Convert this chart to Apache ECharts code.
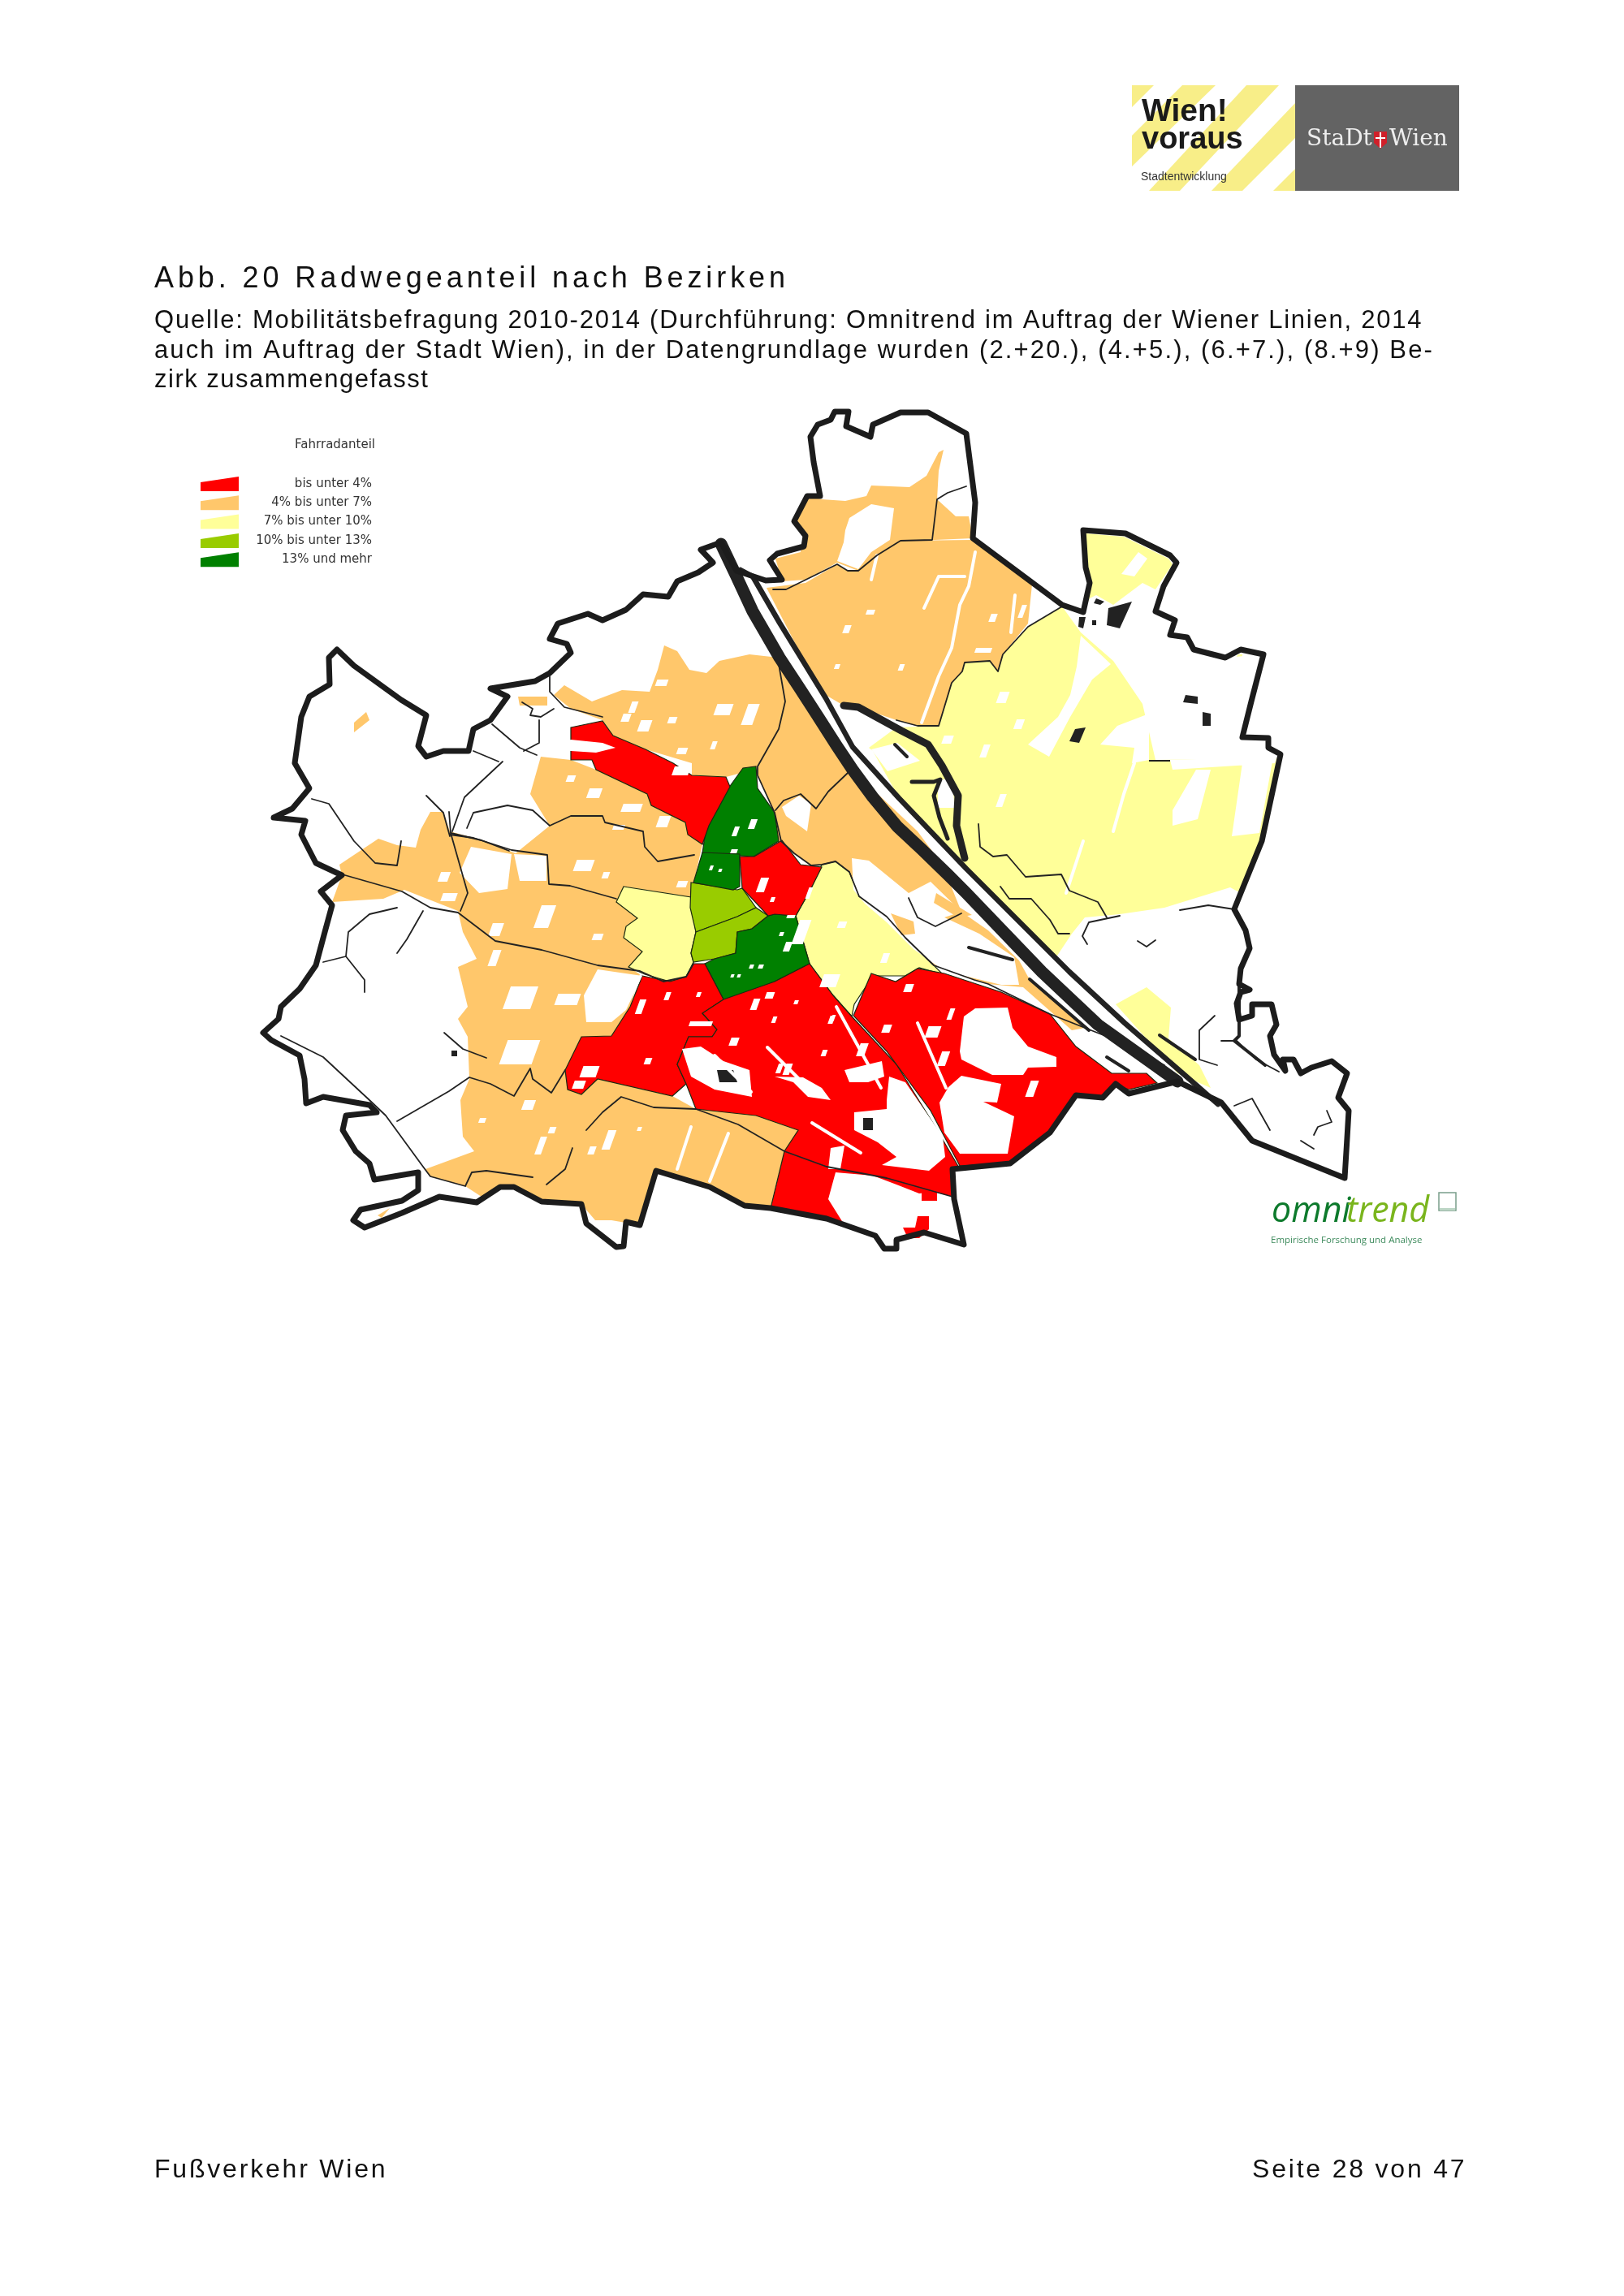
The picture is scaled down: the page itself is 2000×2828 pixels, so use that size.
<!DOCTYPE html>
<html><head><meta charset="utf-8">
<style>html,body{margin:0;padding:0;background:#fff}#c{width:2000px;height:2828px}</style>
<script src="https://cdn.jsdelivr.net/npm/echarts@6/dist/echarts.min.js"></script>
</head><body><div id="c"></div>
<script>
// ---------- text ----------
const HEADING = 'Abb. 20 Radwegeanteil nach Bezirken';
const SOURCE_LINES = [
 'Quelle: Mobilitätsbefragung 2010-2014 (Durchführung: Omnitrend im Auftrag der Wiener Linien, 2014',
 'auch im Auftrag der Stadt Wien), in der Datengrundlage wurden (2.+20.), (4.+5.), (6.+7.), (8.+9) Be-',
 'zirk zusammengefasst'];
const FOOT_LEFT = 'Fußverkehr Wien';
const FOOT_RIGHT = 'Seite 28 von 47';
const LEGEND_TITLE = 'Fahrradanteil';
const CLASS_NAMES = ['bis unter 4%','4% bis unter 7%','7% bis unter 10%','10% bis unter 13%','13% und mehr'];
const CLASS_COLORS = ['#ff0000','#ffc76b','#ffff99','#99cc00','#008000'];

// ---------- map geometry (map units) ----------
const OUTER = [[860,705],[878,693],[863,677],[888,668],[907,703],[943,715],[963,714],[948,690],[957,682],[990,673],[992,660],[978,642],[994,611],[1010,611],[1002,569],[998,538],[1007,523],[1023,517],[1028,507],[1045,507],[1042,525],[1072,538],[1075,523],[1109,508],[1143,508],[1190,534],[1201,619],[1198,663],[1308,745],[1334,754],[1342,718],[1337,699],[1334,653],[1386,657],[1441,684],[1449,693],[1433,722],[1423,753],[1447,764],[1441,782],[1462,785],[1470,800],[1509,810],[1528,800],[1556,806],[1541,864],[1530,908],[1562,909],[1562,921],[1577,929],[1554,1036],[1528,1100],[1520,1120],[1534,1146],[1539,1168],[1528,1193],[1526,1212],[1539,1219],[1528,1222],[1523,1236],[1526,1256],[1542,1251],[1542,1237],[1566,1237],[1572,1262],[1564,1276],[1569,1299],[1583,1319],[1580,1305],[1593,1305],[1602,1322],[1615,1315],[1640,1307],[1659,1322],[1648,1352],[1661,1368],[1659,1402],[1656,1451],[1542,1405],[1504,1358],[1450,1332],[1390,1347],[1374,1335],[1358,1352],[1325,1349],[1293,1395],[1244,1433],[1173,1440],[1175,1477],[1187,1533],[1138,1518],[1104,1527],[1104,1538],[1089,1538],[1078,1522],[1018,1501],[949,1488],[917,1485],[874,1462],[808,1442],[788,1509],[771,1505],[768,1535],[759,1536],[722,1507],[716,1483],[667,1480],[633,1462],[616,1462],[587,1481],[541,1474],[495,1494],[449,1512],[435,1503],[444,1490],[495,1479],[515,1466],[515,1444],[461,1453],[455,1433],[438,1418],[422,1392],[426,1374],[464,1370],[455,1361],[398,1351],[377,1359],[375,1329],[369,1300],[334,1281],[324,1272],[343,1255],[346,1240],[369,1218],[389,1189],[400,1148],[409,1115],[395,1098],[421,1078],[389,1063],[371,1028],[376,1011],[337,1007],[360,996],[381,971],[363,940],[371,883],[381,858],[406,843],[405,810],[415,800],[436,820],[494,862],[525,881],[515,919],[525,932],[546,925],[577,925],[583,898],[604,887],[625,858],[604,848],[659,839],[677,829],[703,804],[698,793],[677,787],[687,768],[724,756],[742,764],[771,751],[792,732],[823,735],[834,716],[860,705]];
const DANUBE_MAIN = [[888,670],[907,710],[927,753],[960,810],[985,848],[1007,882],[1030,918],[1050,948],[1075,982],[1105,1018],[1135,1046],[1167,1077],[1190,1100],[1283,1197],[1352,1262],[1450,1332]];
const DANUBE_SIDE = [[912,702],[927,710],[960,767],[1017,860],[1050,920],[1107,983],[1190,1070],[1317,1197],[1385,1260],[1460,1325],[1500,1360]];
const OLD_DANUBE = [[1039,869],[1057,871],[1110,900],[1143,917],[1160,943],[1180,980],[1178,1017],[1188,1057]];
const OLD_DANUBE_INNER = [[1123,963],[1150,963],[1158,960],[1150,980],[1157,1007],[1167,1033]];
const SIDE_ARMS = [[[1268,1206],[1341,1269]],[[1428,1275],[1472,1305]],[[1363,1302],[1390,1319]],[[1193,1167],[1247,1182]],[[1526,1212],[1526,1276],[1520,1282],[1558,1312]],[[1102,917],[1117,932]]];
const DISTRICT_LINES = [
 [[959,818],[967,864],[959,898],[933,944],[933,955],[954,1001],[962,1036],[978,1051],[999,1066],[1012,1065],[1029,1061],[1046,1074],[1058,1104],[1092,1129],[1115,1155],[1150,1189],[1200,1207],[1217,1212],[1293,1249],[1369,1279],[1434,1312]],
 [[677,829],[677,852],[695,871],[742,883]],[[643,865],[656,873],[653,881],[666,883],[682,873]],[[664,887],[664,915],[645,925]],
 [[606,892],[640,921],[661,930]],[[583,925],[614,938]],[[619,938],[588,967],[572,982],[557,1024]],[[525,980],[546,1001],[554,1030]],
 [[384,984],[405,990],[436,1036],[462,1063],[489,1066],[494,1036]],
 [[575,1020],[583,1001],[625,992],[656,998],[677,1017],[703,1005],[742,1005],[745,1013],[792,1024],[794,1043],[810,1061],[855,1053]],
 [[554,1028],[583,1032],[630,1047],[674,1053],[676,1089],[702,1091],[759,1107]],
 [[418,1076],[495,1098],[530,1118],[564,1124],[610,1159],[667,1170],[736,1189],[788,1196],[817,1209],[845,1203],[854,1187]],
 [[553,1000],[555,1026],[593,1035],[627,1048]],[[555,1026],[576,1100],[567,1122]],
 [[489,1174],[501,1157],[521,1122]],[[489,1118],[455,1126],[429,1148],[426,1178],[449,1207],[449,1222]],[[426,1178],[398,1185]],
 [[346,1276],[398,1302],[455,1355],[475,1374],[521,1437],[530,1449],[573,1461],[581,1444],[599,1442],[656,1450]],
 [[489,1381],[553,1344],[578,1327],[604,1335],[633,1350],[653,1316],[656,1329],[679,1346],[696,1318]],
 [[547,1272],[570,1292],[599,1303]],
 [[722,1392],[742,1370],[765,1351],[805,1364],[857,1366],[909,1385],[966,1418],[1018,1437],[1092,1451],[1173,1474]],
 [[673,1459],[696,1440],[705,1414]],
 [[952,726],[968,726],[1031,695],[1044,703],[1057,703],[1080,684],[1109,666],[1148,665],[1154,615],[1167,607],[1190,599]],
 [[1104,887],[1130,894],[1156,894],[1172,841],[1185,827],[1188,816],[1219,814],[1229,827],[1235,806],[1266,772],[1308,747]],
 [[1044,952],[1020,975],[1005,996],[986,978],[965,986],[955,998]],
 [[1205,1015],[1207,1043],[1223,1055],[1240,1053],[1263,1080],[1307,1077],[1317,1097],[1352,1111],[1363,1130]],
 [[1232,1092],[1243,1107],[1270,1107],[1293,1133],[1303,1150],[1317,1150]],[[1379,1128],[1341,1136],[1333,1153],[1339,1163]],
 [[1453,1121],[1488,1115],[1520,1120]],[[1401,1159],[1412,1166],[1423,1158]],[[1119,1106],[1130,1130],[1152,1141],[1184,1125]],
 [[1496,1251],[1477,1269],[1477,1305],[1499,1312]],[[1504,1282],[1523,1282],[1547,1305],[1575,1320]],[[1520,1362],[1542,1353],[1564,1392]],
 [[1618,1398],[1623,1388],[1640,1382],[1634,1368]],[[1602,1405],[1618,1415]]
];
const WHITE_STREAKS = [
 [[1201,680],[1193,722],[1182,745],[1172,798],[1156,833],[1135,890]],[[1138,749],[1156,710],[1188,710]],[[1080,684],[1073,714]],[[1250,733],[1245,779]],
 [[1371,1024],[1384,978],[1397,940]],[[1313,1100],[1334,1036]],[[897,1396],[874,1455]],[[851,1388],[834,1440]],
 [[880,1300],[925,1345]],[[1030,1240],[1085,1340]],[[1130,1260],[1165,1340]],[[1190,1330],[1160,1360]],[[945,1290],[1000,1345]],[[1000,1383],[1060,1420]]
];

// colour-class districts, drawn in this order
const D_ORANGE_NW = [[959,810],[923,806],[886,814],[870,829],[849,825],[834,802],[818,795],[810,825],[800,852],[766,850],[729,864],[695,844],[682,856],[703,873],[742,887],[755,906],[795,923],[852,940],[852,955],[894,957],[928,948],[933,944],[959,898],[967,864]];
const D_ORANGE_SMALL = [[[638,858],[674,858],[674,869],[640,869]],[[451,877],[455,887],[436,902],[436,890]],[[465,1497],[480,1488],[470,1500]]];
const D_ORANGE_W = [[418,1065],[466,1033],[489,1041],[512,1044],[518,1022],[530,1000],[546,1000],[554,1024],[598,1036],[635,1051],[677,1017],[653,978],[666,932],[703,936],[734,948],[797,978],[802,992],[844,1013],[847,1028],[865,1040],[854,1089],[851,1105],[768,1092],[759,1111],[785,1131],[771,1141],[768,1155],[791,1172],[774,1191],[788,1200],[776,1240],[753,1276],[716,1277],[696,1318],[699,1342],[716,1348],[736,1329],[828,1350],[857,1366],[931,1374],[983,1392],[966,1418],[949,1485],[917,1485],[874,1462],[808,1442],[788,1509],[753,1503],[733,1503],[716,1483],[667,1480],[633,1462],[616,1462],[593,1474],[573,1461],[530,1449],[524,1440],[584,1418],[570,1400],[567,1355],[578,1329],[576,1277],[564,1255],[576,1240],[564,1191],[587,1181],[570,1148],[564,1122],[498,1096],[472,1107],[409,1111],[421,1078]];
const D_ORANGE_NE_LOBE = [[955,688],[986,680],[989,661],[978,642],[994,611],[1012,615],[1041,617],[1067,611],[1073,598],[1120,600],[1141,586],[1156,557],[1162,554],[1156,580],[1154,615],[1177,636],[1193,636],[1198,663],[1151,665],[1109,666],[1080,684],[1057,703],[1031,693],[992,714],[963,716]];
const D_ORANGE_NE = [[944,724],[992,718],[1031,695],[1044,703],[1057,703],[1080,684],[1109,666],[1198,665],[1271,720],[1266,768],[1235,806],[1229,827],[1219,814],[1188,816],[1185,827],[1172,841],[1156,894],[1130,894],[1104,887],[1057,871],[1039,869],[1010,852]];
const D_ORANGE_MID = [[960,818],[989,844],[1049,948],[1130,1024],[1161,1066],[1184,1123],[1217,1146],[1255,1183],[1266,1203],[1336,1266],[1320,1269],[1260,1216],[1217,1212],[1200,1207],[1150,1189],[1115,1155],[1092,1129],[1058,1104],[1046,1074],[1029,1061],[1012,1065],[999,1066],[978,1051],[957,1036],[954,1001],[933,955],[933,944],[959,898],[967,864]];
const D_YELLOW_W = [[768,1092],[851,1105],[857,1148],[851,1174],[854,1185],[845,1203],[825,1209],[794,1200],[774,1191],[791,1172],[768,1155],[771,1141],[785,1131],[759,1111]];
const D_YELLOW_C = [[1012,1065],[1029,1061],[1046,1074],[1058,1104],[1092,1129],[1115,1155],[1150,1189],[1161,1200],[1132,1192],[1115,1202],[1075,1202],[1052,1237],[1049,1252],[1026,1226],[997,1187],[980,1128],[998,1096]];
const D_YELLOW_E = [[1104,896],[1156,894],[1172,841],[1185,827],[1188,816],[1219,814],[1229,827],[1235,806],[1266,772],[1308,747],[1331,779],[1371,814],[1407,867],[1423,936],[1572,934],[1554,1036],[1528,1100],[1515,1093],[1434,1118],[1379,1126],[1336,1130],[1320,1150],[1300,1180],[1190,1072],[1110,988],[1075,925],[1070,921]];
const D_YELLOW_N = [[1337,657],[1384,661],[1439,688],[1444,695],[1423,726],[1407,718],[1371,745],[1350,733],[1342,737],[1334,753],[1342,718],[1334,672]];
const D_YELLOW_SMALL = [[[1507,829],[1525,806],[1530,806],[1528,829]],[[1509,856],[1525,856],[1507,909],[1496,913]],[[1374,1237],[1412,1216],[1442,1241],[1439,1279],[1477,1312],[1491,1340],[1450,1322]]];
const D_LIME_1 = [[851,1087],[908,1096],[914,1094],[931,1118],[908,1129],[857,1148],[850,1118]];
const D_LIME_2 = [[857,1148],[908,1129],[931,1118],[946,1128],[926,1144],[908,1148],[906,1174],[880,1181],[854,1185],[851,1174]];
const D_GREEN_1 = [[915,946],[931,944],[933,971],[954,1001],[959,1036],[928,1055],[865,1051],[870,1017],[897,971]];
const D_GREEN_2 = [[865,1050],[911,1052],[911,1092],[903,1096],[854,1087]];
const D_GREEN_3 = [[954,1126],[980,1128],[997,1187],[954,1209],[908,1228],[891,1231],[868,1187],[880,1181],[906,1174],[908,1148],[926,1144],[946,1128]];
const D_RED_N = [[703,896],[742,888],[755,906],[795,923],[829,940],[852,955],[894,957],[899,969],[873,1017],[865,1040],[847,1028],[844,1013],[802,992],[797,978],[734,948],[729,936],[703,936]];
const D_RED_C = [[963,1035],[986,1065],[1012,1068],[998,1096],[980,1128],[954,1126],[946,1128],[914,1094],[911,1055],[929,1055]];
const D_RED_SW = [[791,1202],[825,1209],[845,1203],[854,1187],[868,1187],[891,1231],[865,1248],[883,1268],[877,1277],[848,1277],[834,1311],[845,1335],[828,1350],[736,1329],[716,1348],[699,1342],[696,1318],[716,1277],[753,1276],[776,1240]];
const D_RED_S = [[891,1231],[954,1209],[997,1187],[1026,1226],[1049,1252],[1104,1311],[1150,1385],[1181,1438],[1173,1440],[1175,1477],[1187,1533],[1138,1518],[1104,1527],[1104,1538],[1089,1538],[1078,1522],[1018,1501],[949,1488],[966,1418],[983,1392],[931,1374],[857,1366],[845,1335],[834,1311],[848,1277],[877,1277],[883,1268],[865,1248]];
const D_RED_SE = [[1051,1251],[1073,1199],[1103,1209],[1130,1193],[1163,1199],[1233,1222],[1293,1249],[1325,1289],[1369,1322],[1412,1322],[1425,1334],[1390,1342],[1374,1335],[1358,1352],[1325,1349],[1293,1395],[1244,1433],[1182,1436],[1146,1368],[1092,1295]];
const D_RED_SOUTH_BITS = [[[1112,1512],[1127,1512],[1130,1498],[1144,1498],[1144,1514],[1132,1525],[1118,1525]],[[1135,1468],[1154,1468],[1154,1479],[1135,1479]]];
const D_ORANGE_BITS = [[[1097,1125],[1125,1135],[1127,1150],[1110,1152]],[[1153,1100],[1197,1127],[1180,1130],[1150,1112]]];

// unsurveyed (white) land inside the districts
const W_PATCHES = [
 [[672,921],[703,911],[742,915],[758,921],[734,927],[703,925]],
 [[1041,653],[1046,638],[1073,621],[1101,626],[1096,665],[1073,680],[1057,701],[1031,691],[1039,668]],
 [[963,994],[984,980],[999,990],[994,1024],[968,1005]],
 [[1049,1057],[1070,1060],[1119,1100],[1146,1086],[1184,1123],[1163,1130],[1206,1150],[1249,1179],[1255,1213],[1233,1213],[1163,1196],[1125,1169],[1092,1136],[1065,1113],[1051,1096]],
 [[736,1194],[791,1202],[771,1244],[753,1259],[722,1259],[719,1226]],
 [[580,1043],[630,1052],[625,1095],[590,1100],[566,1075]],[[633,1052],[673,1054],[673,1085],[640,1085]],
 [[1020,1477],[1029,1444],[1075,1448],[1104,1459],[1132,1470],[1150,1468],[1173,1474],[1187,1533],[1138,1518],[1104,1527],[1104,1538],[1089,1538],[1078,1522],[1040,1509]],
 [[1092,1355],[1095,1326],[1115,1333],[1161,1400],[1164,1425],[1144,1442],[1086,1435],[1104,1425],[1081,1407],[1052,1392],[1052,1370],[1092,1366]],
 [[840,1292],[863,1289],[891,1307],[923,1318],[926,1351],[880,1342],[851,1326]],
 [[954,1326],[989,1327],[1012,1340],[1023,1355],[995,1351],[977,1333]],
 [[1040,1318],[1086,1307],[1089,1326],[1069,1333],[1046,1333]],
 [[1023,1414],[1040,1411],[1035,1440],[1020,1440]],
 [[1182,1295],[1187,1252],[1201,1242],[1241,1241],[1247,1266],[1266,1289],[1301,1302],[1301,1314],[1266,1315],[1260,1324],[1222,1324],[1184,1305]],
 [[1157,1358],[1168,1339],[1184,1325],[1233,1335],[1228,1358],[1211,1357],[1249,1375],[1241,1421],[1182,1421],[1163,1395]],
 [[1402,680],[1413,688],[1397,710],[1381,707]],
 [[1331,783],[1368,818],[1345,837],[1318,883],[1292,932],[1266,917],[1303,883],[1318,856],[1326,821]],
 [[1355,917],[1376,894],[1415,879],[1415,936],[1394,940],[1397,921]],
 [[1441,936],[1572,932],[1570,940],[1444,948]],[[1530,940],[1567,938],[1551,1026],[1517,1030]],[[1473,948],[1491,948],[1475,1009],[1444,1017],[1444,998]],
 [[1400,800],[1470,800],[1509,810],[1556,806],[1530,908],[1500,913],[1480,930],[1423,930],[1410,860]],
 [[1073,923],[1105,915],[1133,937],[1093,950]],[[1155,960],[1172,960],[1176,995],[1155,995]]
];
// small blanks: x, y, width, height
const W_SPECKS = [[787,887,14,14],[766,879,10,10],[823,883,10,8],[881,867,20,14],[917,867,14,26],[808,837,14,8],[776,864,8,14],[876,913,6,10],[834,921,12,8],[829,944,20,11],[724,971,16,12],[766,990,24,10],[810,1005,14,14],[698,955,10,8],[755,1016,14,6],[708,1059,22,14],[541,1074,12,12],[834,1085,12,8],[742,1074,8,8],[662,1115,18,28],[544,1100,18,10],[730,1150,12,8],[604,1137,14,16],[624,1215,34,28],[685,1224,28,14],[604,1170,10,20],[620,1281,40,30],[745,1392,10,24],[662,1400,8,22],[725,1412,8,10],[644,1355,14,12],[590,1377,8,6],[676,1388,8,8],[785,1388,5,5],[903,1018,6,12],[923,1009,8,12],[900,1046,8,5],[874,1066,4,6],[885,1070,4,4],[966,1160,8,12],[960,1148,5,5],[969,1127,10,4],[923,1188,5,5],[934,1188,6,5],[900,1200,4,4],[908,1200,4,4],[934,1081,10,18],[949,1105,5,6],[994,1093,5,14],[819,1222,6,10],[785,1231,8,18],[858,1222,5,6],[849,1258,28,6],[794,1303,8,8],[716,1313,20,14],[706,1331,14,10],[926,1230,8,14],[943,1222,10,8],[978,1232,5,5],[1021,1251,6,10],[899,1278,10,10],[951,1252,5,8],[957,1310,6,12],[966,1310,8,14],[1057,1285,10,16],[1012,1293,6,8],[1087,1262,10,10],[1141,1264,16,14],[1157,1295,10,18],[1168,1242,6,14],[1114,1212,10,10],[1024,1250,4,8],[1266,1331,10,20],[1039,770,8,10],[1256,745,6,16],[1219,756,8,10],[1107,818,6,8],[1067,751,10,6],[1201,798,20,6],[1028,818,6,6],[1229,852,12,14],[1209,917,8,16],[1250,886,10,12],[1229,978,8,16],[1161,906,12,10],[1032,1135,10,8],[1086,1174,8,12],[1012,1200,20,16],[980,1133,14,30]];
const BLACK_BLOBS = [
 [[1365,749],[1394,741],[1379,774],[1363,770]],[[1350,737],[1360,741],[1355,745],[1347,743]],[[1329,760],[1337,760],[1334,774],[1328,772]],[[1345,764],[1350,764],[1350,770],[1345,770]],
 [[1324,898],[1337,896],[1329,915],[1317,913]],[[1460,856],[1475,858],[1475,867],[1457,865]],[[1481,877],[1491,879],[1491,894],[1481,894]],[[1415,936],[1441,936],[1441,938],[1415,938]],
 [[883,1318],[903,1318],[908,1333],[886,1333]],[[1063,1377],[1075,1377],[1075,1392],[1063,1392]],[[556,1294],[563,1294],[563,1301],[556,1301]]
];

// ---------- build the map ----------
const patch = s => { const k=s[3]*0.18; return [[s[0]+k,s[1]],[s[0]+s[2]+k,s[1]],[s[0]+s[2]-k,s[1]+s[3]],[s[0]-k,s[1]+s[3]]]; };
const layers = [ // name, class index (-1 blank, -2 ink), rings
 ['Orange NW',1,[D_ORANGE_NW,...D_ORANGE_SMALL]],['Orange W',1,[D_ORANGE_W]],['Orange NE lobe',1,[D_ORANGE_NE_LOBE]],['Orange NE',1,[D_ORANGE_NE]],['Orange Mid',1,[D_ORANGE_MID]],
 ['Yellow W',2,[D_YELLOW_W]],['Yellow C',2,[D_YELLOW_C]],['Yellow E',2,[D_YELLOW_E,D_YELLOW_N,...D_YELLOW_SMALL]],
 ['Lime 1',3,[D_LIME_1]],['Lime 2',3,[D_LIME_2]],['Green 1',4,[D_GREEN_1]],['Green 2',4,[D_GREEN_2]],['Green 3',4,[D_GREEN_3]],
 ['Red N',0,[D_RED_N]],['Red C',0,[D_RED_C]],['Red SW',0,[D_RED_SW]],['Red S',0,[D_RED_S]],['Red SE',0,[D_RED_SE]],
 ['Blank',-1,[...W_PATCHES,...W_SPECKS.map(patch)]],['Red bits',0,D_RED_SOUTH_BITS],['Orange bits',1,D_ORANGE_BITS],['Blobs',-2,BLACK_BLOBS]
];
const features = layers.map(l => ({type:'Feature',properties:{name:l[0]},geometry:{type:'MultiPolygon',coordinates:l[2].map(r=>[r])}}));
echarts.registerMap('wien',{type:'FeatureCollection',features});
const inked = ['Lime 1','Lime 2','Green 1','Green 2','Green 3','Red N','Red C','Red SW','Red S','Red SE','Yellow W','Yellow C'];
const regionStyles = layers.map(l=>({name:l[0],silent:true,itemStyle:{
  areaColor:l[1]>=0?CLASS_COLORS[l[1]]:(l[1]===-1?'#ffffff':'#222222'),
  borderColor:inked.includes(l[0])?'#1a2a10':'transparent',borderWidth:inked.includes(l[0])?1.2:0}}));

const lineSeries=(name,list,color,width,z)=>({type:'lines',name,coordinateSystem:'geo',polyline:true,silent:true,z,
  data:list.map(c=>({coords:c})),lineStyle:{color,width,opacity:1,cap:'round',join:'round'}});

// letter-spaced document text, as in the source PDF
const SPACING = new Map([[HEADING,'4.9px'],[SOURCE_LINES[0],'1.77px'],[SOURCE_LINES[1],'2.13px'],[SOURCE_LINES[2],'1.5px'],[FOOT_LEFT,'2.8px'],[FOOT_RIGHT,'2.8px']]);
const _ft = CanvasRenderingContext2D.prototype.fillText;
CanvasRenderingContext2D.prototype.fillText = function(t,x,y,m){
  this.letterSpacing = SPACING.get(t)||'0px';
  return m===undefined?_ft.call(this,t,x,y):_ft.call(this,t,x,y,m);
};
const T=(text,left,top,size)=>({text,left,top,padding:0,textStyle:{fontFamily:'Liberation Sans',fontSize:size,fontWeight:'normal',color:'#111'}});

const gPoly=(points,fill,extra)=>Object.assign({type:'polygon',shape:{points},style:{fill},silent:true,z:20},extra||{});
const gText=(text,x,y,font,fill,align)=>({type:'text',silent:true,z:21,x,y,style:{text,font,fill,align:align||'left',verticalAlign:'middle'}});

const chart=echarts.init(document.getElementById('c'),null,{renderer:'canvas',width:2000,height:2828});
chart.setOption({
 animation:false,backgroundColor:'#fff',
 title:[T(HEADING,190,326,36),T(SOURCE_LINES[0],190,380,31),T(SOURCE_LINES[1],190,417,31),T(SOURCE_LINES[2],190,453,31),T(FOOT_LEFT,190,2675,32),T(FOOT_RIGHT,1553,2675,32)].map((t,i)=>i>3?Object.assign(t,{top:2675-18,left:i===5?1542:190}):t),
 legend:{orient:'vertical',left:242,top:582,itemWidth:47,itemHeight:18,itemGap:5.3,icon:'path://M0,7L47,0L47,18L0,18Z',selectedMode:false,
  data:CLASS_NAMES,formatter:n=>'{r|'+n+'}',
  textStyle:{rich:{r:{width:159,align:'right',fontFamily:'DejaVu Sans',fontSize:15,color:'#333'}}}},
 geo:{map:'wien',silent:true,left:0,top:0,width:2000,height:2828,boundingCoords:[[0,0],[2000,2828]],
  projection:{project:p=>p,unproject:p=>p},roam:false,label:{show:false},
  itemStyle:{areaColor:'transparent',borderWidth:0},emphasis:{disabled:true},select:{disabled:true},regions:regionStyles},
 series:[
  ...CLASS_NAMES.map((n,i)=>({type:'scatter',name:n,coordinateSystem:'geo',data:[],itemStyle:{color:CLASS_COLORS[i],opacity:1}})),
  lineSeries('Blank streaks',WHITE_STREAKS,'#ffffff',4,3),
  lineSeries('Districts & rivers',DISTRICT_LINES,'#222222',1.8,4),
  lineSeries('Side arms',SIDE_ARMS,'#222222',4,5),
  lineSeries('Old Danube',[OLD_DANUBE],'#222222',9,5),
  lineSeries('Old Danube inner',[OLD_DANUBE_INNER],'#222222',5,5),
  lineSeries('Danube',[DANUBE_MAIN],'#222222',15,6),
  lineSeries('Danube side',[DANUBE_SIDE],'#222222',6.5,6),
  lineSeries('City limit',[OUTER],'#1c1c1c',7,7)
 ],
 graphic:[
  gText(LEGEND_TITLE,462,548,'15px "DejaVu Sans"','#333','right'),
  // Wien! voraus logo
  {type:'rect',shape:{x:1394,y:105,width:201,height:130},style:{fill:'#fff'},silent:true,z:19},
  gPoly([[1394,105],[1421,105],[1394,132]],'#f8ee88'),gPoly([[1456,105],[1497,105],[1394,205],[1394,167]],'#f8ee88'),gPoly([[1535,105],[1575,105],[1453,235],[1415,235]],'#f8ee88'),gPoly([[1595,127],[1595,170],[1530,235],[1492,235]],'#f8ee88'),gPoly([[1595,208],[1595,235],[1568,235]],'#f8ee88'),
  gText('Wien!',1406,138,'bold 39px "Liberation Sans"','#1a1a1a'),gText('voraus',1406,173,'bold 38px "Liberation Sans"','#1a1a1a'),gText('Stadtentwicklung',1405,218,'14px "Liberation Sans"','#333'),
  {type:'rect',shape:{x:1595,y:105,width:202,height:130},style:{fill:'#636363'},silent:true,z:19},
  gText('StaDt',1609,172,'28px "DejaVu Serif"','#eee'),gText('Wien',1711,172,'28px "DejaVu Serif"','#eee'),
  gPoly([[1692,162],[1708,162],[1708,176],[1700,183],[1692,176]],'#d0202a'),
  {type:'rect',shape:{x:1699,y:163,width:2,height:19},style:{fill:'#fff'},silent:true,z:21},{type:'rect',shape:{x:1694,y:169,width:12,height:2},style:{fill:'#fff'},silent:true,z:21},
  // omnitrend logo
  gText('omni',1566,1493,'italic 43px "Open Sans"','#0d7a2c'),gText('trend',1658,1493,'italic 43px "Open Sans"','#7ab51d'),
  gText('Empirische Forschung und Analyse',1565,1528,'11.5px "Open Sans"','#3d8a5c'),
  {type:'rect',shape:{x:1772,y:1469,width:21,height:22},style:{fill:'#fff',stroke:'#7a9f8a',lineWidth:1.5},silent:true,z:20},
  {type:'rect',shape:{x:1773,y:1488,width:19,height:3},style:{fill:'#bcd5c5'},silent:true,z:21}
 ]
});
</script></body></html>
